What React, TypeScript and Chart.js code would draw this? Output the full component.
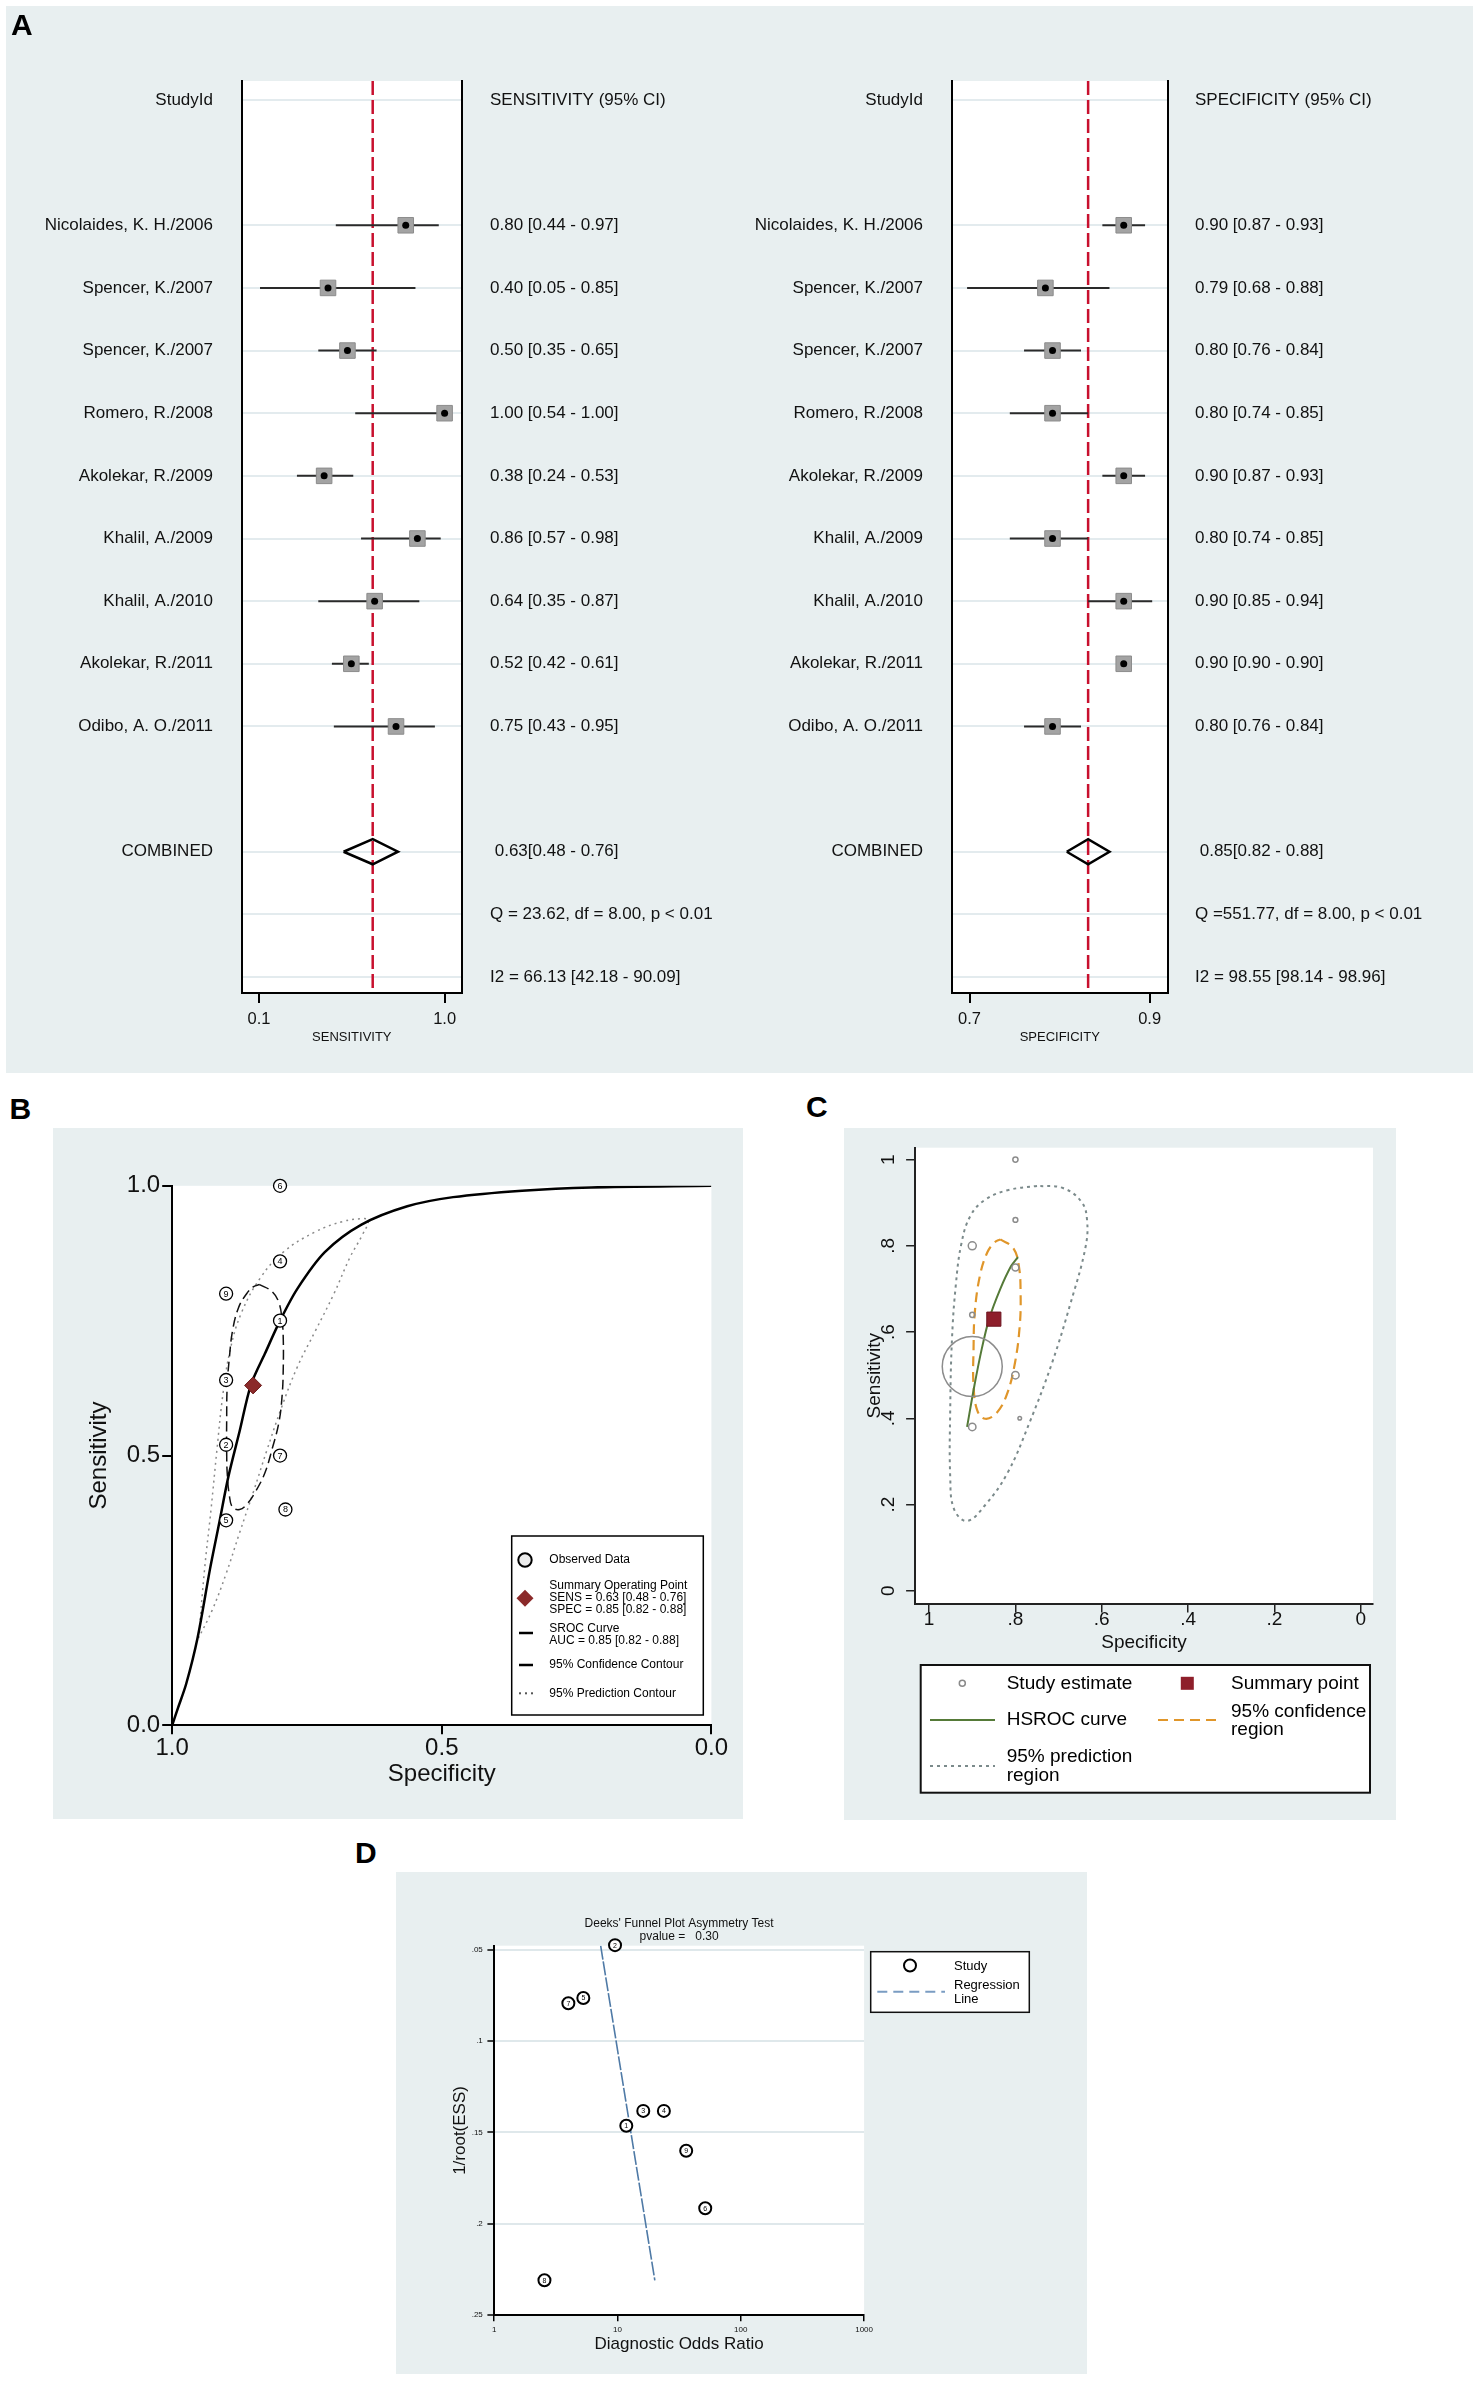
import React, { useEffect, useRef } from "react";
import { Chart, registerables } from "chart.js";

Chart.register(...registerables);

const FONT = "'Liberation Sans', Arial, Helvetica, sans-serif";
const PANEL_BG = "#e8eff0";

// ---------------- data ----------------
const studyNames = [
  "Nicolaides, K. H./2006",
  "Spencer, K./2007",
  "Spencer, K./2007",
  "Romero, R./2008",
  "Akolekar, R./2009",
  "Khalil, A./2009",
  "Khalil, A./2010",
  "Akolekar, R./2011",
  "Odibo, A. O./2011",
];
const studyNumbers = ["9", "8", "7", "6", "5", "4", "3", "2", "1"];
const sensitivity = [0.8, 0.4, 0.5, 1.0, 0.38, 0.86, 0.64, 0.52, 0.75];
const sensitivityLow = [0.44, 0.05, 0.35, 0.54, 0.24, 0.57, 0.35, 0.42, 0.43];
const sensitivityHigh = [0.97, 0.85, 0.65, 1.0, 0.53, 0.98, 0.87, 0.61, 0.95];
const specificity = [0.9, 0.79, 0.8, 0.8, 0.9, 0.8, 0.9, 0.9, 0.8];
const specificityLow = [0.87, 0.68, 0.76, 0.74, 0.87, 0.74, 0.85, 0.9, 0.76];
const specificityHigh = [0.93, 0.88, 0.84, 0.85, 0.93, 0.85, 0.94, 0.9, 0.84];
const pooledSensitivity = [0.63, 0.48, 0.76];
const pooledSpecificity = [0.85, 0.82, 0.88];
const aucSummary = [0.85, 0.82, 0.88];
const sensitivityStats = ["Q = 23.62, df = 8.00, p < 0.01", "I2 = 66.13 [42.18 - 90.09]"];
const specificityStats = ["Q =551.77, df = 8.00, p < 0.01", "I2 = 98.55 [98.14 - 98.96]"];
const sensitivityTickValues = [0.045, 1.0];
const sensitivityTickLabels = ["0.1", "1.0"];
const specificityTickValues = [0.6834, 0.9364];
const specificityTickLabels = ["0.7", "0.9"];

// SROC (panel B)
const srocSpec = [1.0, 0.99, 0.974, 0.953, 0.93, 0.913, 0.896, 0.875, 0.854, 0.828, 0.8, 0.768, 0.717, 0.649, 0.564, 0.479, 0.351, 0.223, 0.0];
const srocSens = [0.0, 0.03, 0.077, 0.162, 0.289, 0.374, 0.46, 0.545, 0.631, 0.689, 0.75, 0.809, 0.877, 0.928, 0.962, 0.979, 0.991, 0.997, 1.0];
const confSpecB = [0.838, 0.815, 0.802, 0.796, 0.794, 0.794, 0.796, 0.802, 0.815, 0.828, 0.845, 0.862, 0.875, 0.888, 0.894, 0.898, 0.899, 0.899, 0.898, 0.894, 0.888, 0.877, 0.862, 0.849, 0.838];
const confSensB = [0.817, 0.804, 0.783, 0.749, 0.715, 0.664, 0.613, 0.562, 0.511, 0.468, 0.434, 0.409, 0.4, 0.404, 0.426, 0.468, 0.511, 0.562, 0.63, 0.681, 0.732, 0.774, 0.8, 0.813, 0.817];
const predSpecB = [0.951, 0.94, 0.928, 0.917, 0.906, 0.892, 0.871, 0.836, 0.794, 0.734, 0.683, 0.649, 0.636, 0.649, 0.67, 0.7, 0.734, 0.768, 0.798, 0.824, 0.849, 0.875, 0.9, 0.926, 0.951];
const predSensB = [0.162, 0.289, 0.4, 0.511, 0.613, 0.698, 0.766, 0.83, 0.877, 0.915, 0.934, 0.939, 0.936, 0.906, 0.868, 0.8, 0.732, 0.664, 0.587, 0.511, 0.434, 0.357, 0.281, 0.213, 0.162];
const srocTickValues = [0, 0.5, 1];
const srocTickLabels = ["0.0", "0.5", "1.0"];

// HSROC (panel C)
const hsrocSpec = [0.912, 0.895, 0.878, 0.861, 0.835, 0.81, 0.794];
const hsrocSens = [0.38, 0.476, 0.561, 0.63, 0.7, 0.753, 0.774];
const confSpecC = [0.835, 0.805, 0.792, 0.788, 0.79, 0.801, 0.82, 0.844, 0.87, 0.888, 0.897, 0.897, 0.894, 0.882, 0.865, 0.848, 0.835];
const confSensC = [0.815, 0.795, 0.753, 0.689, 0.615, 0.529, 0.455, 0.412, 0.399, 0.417, 0.476, 0.561, 0.647, 0.732, 0.785, 0.808, 0.815];
const predSpecC = [0.75, 0.818, 0.87, 0.904, 0.925, 0.938, 0.947, 0.951, 0.951, 0.942, 0.912, 0.87, 0.818, 0.767, 0.715, 0.672, 0.638, 0.634, 0.647, 0.69, 0.75];
const predSensC = [0.939, 0.929, 0.907, 0.87, 0.806, 0.71, 0.583, 0.423, 0.263, 0.189, 0.162, 0.199, 0.274, 0.391, 0.529, 0.668, 0.795, 0.859, 0.902, 0.934, 0.939];
const hsrocTickValues = [0, 0.2, 0.4, 0.6, 0.8, 1];
const hsrocTickLabels = ["0", ".2", ".4", ".6", ".8", "1"];

// Deeks funnel (panel D)
const deeksDOR = [36.1, 2.56, 4.0, 51.5, 5.29, 23.8, 16.2, 9.56, 11.8];
const deeksInvRootESS = [0.16, 0.2309, 0.0793, 0.1915, 0.0764, 0.1382, 0.1382, 0.0475, 0.1463];
const regressionDOR = [7.31, 20.1];
const regressionInvRootESS = [0.0478, 0.2309];
const deeksPValue = 0.3;
const deeksXTickValues = [1, 10, 100, 1000];
const deeksXTickLabels = ["1", "10", "100", "1000"];
const deeksYTickValues = [0.05, 0.1, 0.15, 0.2, 0.25];
const deeksYTickLabels = [".05", ".1", ".15", ".2", ".25"];

// ---------------- styles (not data) ----------------
const studyMarkerRadiusC = [4, 1.8, 3.7, 2.6, 3.7, 2.4, 2.6, 30, 3.5];

const HEADER_ROW = 0;
const FIRST_STUDY_ROW = 2;
const COMBINED_ROW = 12;
const ROW_COUNT = 15;
const ROW_MIN = -0.303;
const ROW_MAX = 14.255;

const fmtCI = (e: number, l: number, h: number) =>
  `${e.toFixed(2)} [${l.toFixed(2)} - ${h.toFixed(2)}]`;

const pts = (xs: number[], ys: number[]) => xs.map((x, i) => ({ x, y: ys[i] }));

// ---------------- plugins ----------------
const plotBackground = {
  id: "plotBackground",
  beforeDraw(chart: any) {
    const { ctx, chartArea: a } = chart;
    ctx.save();
    ctx.fillStyle = "#ffffff";
    ctx.fillRect(a.left, a.top, a.right - a.left, a.bottom - a.top);
    ctx.restore();
  },
};

const numberLabels = {
  id: "numberLabels",
  afterDatasetsDraw(chart: any) {
    const ctx = chart.ctx;
    chart.data.datasets.forEach((ds: any, i: number) => {
      if (!ds.numLabels) return;
      const meta = chart.getDatasetMeta(i);
      ctx.save();
      ctx.font = ds.numFont;
      ctx.fillStyle = "#000";
      ctx.textAlign = "center";
      ctx.textBaseline = "middle";
      meta.data.forEach((el: any, j: number) => {
        ctx.fillText(ds.numLabels[j], el.x, el.y + 0.5);
      });
      ctx.restore();
    });
  },
};

const drawing = (id: string, fn: (ctx: CanvasRenderingContext2D, chart: any) => void) => ({
  id,
  afterDraw(chart: any) {
    const ctx = chart.ctx;
    ctx.save();
    fn(ctx, chart);
    ctx.restore();
  },
});

const commonOptions = {
  responsive: false,
  animation: false,
  devicePixelRatio: 1,
  events: [],
};
const noPlugins = {
  legend: { display: false },
  tooltip: { enabled: false },
  title: { display: false },
};

// ---------------- panel A: forest plots ----------------
function buildForest(cfg: any) {
  const { est, lo, hi, pooled, header, stats, title, xMin, xMax, tickValues, tickLabels, yWidth, y2Width, leftPadding, rightPadding } = cfg;
  const leftLabels: string[] = new Array(ROW_COUNT).fill("");
  const rightLabels: string[] = new Array(ROW_COUNT).fill("");
  leftLabels[HEADER_ROW] = "StudyId";
  rightLabels[HEADER_ROW] = header;
  studyNames.forEach((name, i) => {
    leftLabels[FIRST_STUDY_ROW + i] = name;
    rightLabels[FIRST_STUDY_ROW + i] = fmtCI(est[i], lo[i], hi[i]);
  });
  leftLabels[COMBINED_ROW] = "COMBINED";
  rightLabels[COMBINED_ROW] = " " + pooled[0].toFixed(2) + "[" + pooled[1].toFixed(2) + " - " + pooled[2].toFixed(2) + "]";
  stats.forEach((s: string, i: number) => {
    rightLabels[COMBINED_ROW + 1 + i] = s;
  });
  const tickRows = leftLabels.map((_, r) => r).filter((r) => leftLabels[r] !== "" || rightLabels[r] !== "");
  const setRows = (s: any) => {
    s.ticks = tickRows.map((v) => ({ value: v }));
  };
  const rowOf = (i: number) => FIRST_STUDY_ROW + i;
  const labelFont = { family: FONT, size: 17 };

  const datasets: any[] = [
    {
      label: "dots",
      data: est.map((v: number, i: number) => ({ x: v, y: rowOf(i) })),
      pointStyle: "circle",
      pointRadius: 3.5,
      pointBackgroundColor: "#000",
      pointBorderColor: "#000",
      pointBorderWidth: 0,
      order: 1,
    },
    {
      label: "squares",
      data: est.map((v: number, i: number) => ({ x: v, y: rowOf(i) })),
      pointStyle: "rect",
      pointRadius: 11,
      pointBackgroundColor: "#a3a3a3",
      pointBorderColor: "#8c8c8c",
      pointBorderWidth: 1,
      order: 2,
    },
    ...est.map((_: number, i: number) => ({
      label: "ci" + i,
      data: [
        { x: lo[i], y: rowOf(i) },
        { x: hi[i], y: rowOf(i) },
      ],
      showLine: true,
      borderColor: "#2a2a2a",
      borderWidth: 2,
      pointRadius: 0,
      order: 3,
    })),
    {
      label: "pooled",
      data: [
        { x: pooled[1], y: COMBINED_ROW },
        { x: pooled[0], y: COMBINED_ROW - 0.2 },
        { x: pooled[2], y: COMBINED_ROW },
        { x: pooled[0], y: COMBINED_ROW + 0.2 },
        { x: pooled[1], y: COMBINED_ROW },
      ],
      showLine: true,
      borderColor: "#000",
      borderWidth: 2.5,
      borderJoinStyle: "miter",
      pointRadius: 0,
      order: 4,
    },
    {
      label: "reference",
      data: [
        { x: pooled[0], y: ROW_MIN },
        { x: pooled[0], y: ROW_MAX },
      ],
      showLine: true,
      borderColor: "#c8102e",
      borderWidth: 2.5,
      borderDash: [14, 5],
      pointRadius: 0,
      order: 5,
    },
  ];

  return {
    type: "scatter",
    data: { datasets },
    options: {
      ...commonOptions,
      layout: { autoPadding: false, padding: { top: 75, bottom: 20, left: 0, right: 0 } },
      plugins: noPlugins,
      scales: {
        x: {
          type: "linear",
          min: xMin,
          max: xMax,
          afterBuildTicks: (s: any) => {
            s.ticks = tickValues.map((v: number) => ({ value: v }));
          },
          afterFit: (s: any) => {
            s.height = 60;
          },
          ticks: {
            autoSkip: false,
            maxRotation: 0,
            padding: 7,
            color: "#111",
            font: { family: FONT, size: 16.5 },
            callback: (_v: any, i: number) => tickLabels[i],
          },
          grid: { drawOnChartArea: false, drawTicks: true, tickLength: 10, color: "#000", lineWidth: 2 },
          border: { display: true, color: "#000", width: 2 },
          title: {
            display: true,
            text: title,
            color: "#111",
            font: { family: FONT, size: 13 },
            padding: { top: 0, bottom: 7.5 },
          },
        },
        y: {
          type: "linear",
          reverse: true,
          min: ROW_MIN,
          max: ROW_MAX,
          afterBuildTicks: setRows,
          afterFit: (s: any) => {
            s.width = yWidth;
            s.paddingTop = 0;
            s.paddingBottom = 0;
          },
          ticks: {
            autoSkip: false,
            padding: leftPadding,
            color: "#111",
            font: labelFont,
            callback: (v: any) => leftLabels[v] ?? "",
          },
          grid: { color: "#e3ebee", lineWidth: 2, drawTicks: false },
          border: { display: true, color: "#000", width: 2 },
        },
        y2: {
          type: "linear",
          position: "right",
          reverse: true,
          min: ROW_MIN,
          max: ROW_MAX,
          afterBuildTicks: setRows,
          afterFit: (s: any) => {
            s.width = y2Width;
            s.paddingTop = 0;
            s.paddingBottom = 0;
          },
          ticks: {
            autoSkip: false,
            padding: rightPadding,
            color: "#111",
            font: labelFont,
            callback: (v: any) => rightLabels[v] ?? "",
          },
          grid: { display: false, drawTicks: false },
          border: { display: true, color: "#000", width: 2 },
        },
      },
    },
    plugins: [plotBackground],
  };
}

const buildSensForest = () =>
  buildForest({
    est: sensitivity,
    lo: sensitivityLow,
    hi: sensitivityHigh,
    pooled: pooledSensitivity,
    header: "SENSITIVITY (95% CI)",
    stats: sensitivityStats,
    title: "SENSITIVITY",
    xMin: -0.0427,
    xMax: 1.0875,
    tickValues: sensitivityTickValues,
    tickLabels: sensitivityTickLabels,
    yWidth: 236,
    y2Width: 278.4,
    leftPadding: 29,
    rightPadding: 28.4,
  });

const buildSpecForest = () =>
  buildForest({
    est: specificity,
    lo: specificityLow,
    hi: specificityHigh,
    pooled: pooledSpecificity,
    header: "SPECIFICITY (95% CI)",
    stats: specificityStats,
    title: "SPECIFICITY",
    xMin: 0.6588,
    xMax: 0.9615,
    tickValues: specificityTickValues,
    tickLabels: specificityTickLabels,
    yWidth: 212,
    y2Width: 305.5,
    leftPadding: 29,
    rightPadding: 27.5,
  });

// ---------------- panel B: SROC ----------------
const legendB = drawing("legendB", (ctx) => {
  ctx.fillStyle = "#fff";
  ctx.fillRect(458.7, 408, 191.6, 179);
  ctx.strokeStyle = "#000";
  ctx.lineWidth = 1.5;
  ctx.strokeRect(458.7, 408, 191.6, 179);

  ctx.beginPath();
  ctx.arc(472, 432, 6.7, 0, Math.PI * 2);
  ctx.fillStyle = "#ececec";
  ctx.fill();
  ctx.lineWidth = 2;
  ctx.strokeStyle = "#000";
  ctx.stroke();

  ctx.beginPath();
  ctx.moveTo(472, 470.3 - 8.5);
  ctx.lineTo(472 + 8.5, 470.3);
  ctx.lineTo(472, 470.3 + 8.5);
  ctx.lineTo(472 - 8.5, 470.3);
  ctx.closePath();
  ctx.fillStyle = "#8b2a2a";
  ctx.fill();

  ctx.lineWidth = 2.5;
  ctx.strokeStyle = "#000";
  ctx.beginPath();
  ctx.moveTo(466, 505);
  ctx.lineTo(480, 505);
  ctx.stroke();
  ctx.beginPath();
  ctx.moveTo(466, 537);
  ctx.lineTo(480, 537);
  ctx.stroke();
  ctx.fillStyle = "#555";
  [467, 473, 479].forEach((x) => ctx.fillRect(x - 1, 564.3, 2, 2));

  ctx.fillStyle = "#000";
  ctx.font = `12px ${FONT}`;
  ctx.textAlign = "left";
  ctx.textBaseline = "middle";
  const tx = 496.3;
  ctx.fillText("Observed Data", tx, 432);
  ctx.fillText("Summary Operating Point", tx, 457.5);
  ctx.fillText("SENS = " + fmtCI(pooledSensitivity[0], pooledSensitivity[1], pooledSensitivity[2]), tx, 469.8);
  ctx.fillText("SPEC = " + fmtCI(pooledSpecificity[0], pooledSpecificity[1], pooledSpecificity[2]), tx, 482);
  ctx.fillText("SROC Curve", tx, 500.5);
  ctx.fillText("AUC = " + fmtCI(aucSummary[0], aucSummary[1], aucSummary[2]), tx, 513);
  ctx.fillText("95% Confidence Contour", tx, 537);
  ctx.fillText("95% Prediction Contour", tx, 565.3);
});

const buildSroc = () => ({
  type: "scatter",
  data: {
    datasets: [
      {
        label: "summary",
        data: [{ x: pooledSpecificity[0], y: pooledSensitivity[0] }],
        pointStyle: "rectRot",
        pointRadius: 8.5,
        pointBackgroundColor: "#8b2a2a",
        pointBorderColor: "#6e1f1f",
        pointBorderWidth: 1,
        order: 0,
        clip: false,
      },
      {
        label: "observed",
        data: pts(specificity, sensitivity),
        pointStyle: "circle",
        pointRadius: 6.5,
        pointBackgroundColor: "#ffffff",
        pointBorderColor: "#000",
        pointBorderWidth: 1.3,
        order: 1,
        clip: false,
        numLabels: studyNumbers,
        numFont: `9px ${FONT}`,
      },
      {
        label: "sroc",
        data: pts(srocSpec, srocSens),
        showLine: true,
        borderColor: "#000",
        borderWidth: 2.5,
        pointRadius: 0,
        tension: 0.3,
        order: 2,
      },
      {
        label: "conf",
        data: pts(confSpecB, confSensB),
        showLine: true,
        borderColor: "#111",
        borderWidth: 1.5,
        borderDash: [10, 5],
        pointRadius: 0,
        tension: 0.4,
        order: 3,
      },
      {
        label: "pred",
        data: pts(predSpecB, predSensB),
        showLine: true,
        borderColor: "#8a8a8a",
        borderWidth: 1.5,
        borderDash: [2, 4],
        pointRadius: 0,
        tension: 0.4,
        order: 4,
      },
    ],
  },
  options: {
    ...commonOptions,
    layout: { autoPadding: false, padding: { top: 57.8, right: 31.6, left: 0, bottom: 13.7 } },
    plugins: noPlugins,
    scales: {
      x: {
        type: "linear",
        reverse: true,
        min: 0,
        max: 1,
        afterBuildTicks: (s: any) => {
          s.ticks = srocTickValues.map((v) => ({ value: v }));
        },
        afterFit: (s: any) => {
          s.height = 80;
        },
        ticks: {
          autoSkip: false,
          maxRotation: 0,
          padding: 0,
          color: "#111",
          font: { family: FONT, size: 24 },
          callback: (_v: any, i: number) => srocTickLabels[i],
        },
        grid: { drawOnChartArea: false, tickLength: 9, color: "#000", lineWidth: 2 },
        border: { display: true, color: "#000", width: 2 },
        title: {
          display: true,
          text: "Specificity",
          color: "#111",
          font: { family: FONT, size: 24 },
          padding: { top: 0, bottom: 16.4 },
        },
      },
      y: {
        type: "linear",
        min: 0,
        max: 1,
        afterBuildTicks: (s: any) => {
          s.ticks = srocTickValues.map((v) => ({ value: v }));
        },
        afterFit: (s: any) => {
          s.width = 119.2;
        },
        ticks: {
          autoSkip: false,
          padding: 2,
          color: "#111",
          font: { family: FONT, size: 24 },
          callback: (_v: any, i: number) => srocTickLabels[i],
        },
        grid: { drawOnChartArea: false, tickLength: 10, color: "#000", lineWidth: 2 },
        border: { display: true, color: "#000", width: 2 },
        title: {
          display: true,
          text: "Sensitivity",
          color: "#111",
          font: { family: FONT, size: 24 },
          padding: { top: 32.3, bottom: 0 },
        },
      },
    },
  },
  plugins: [plotBackground, numberLabels, legendB],
});

// ---------------- panel C: HSROC ----------------
const legendC = drawing("legendC", (ctx) => {
  ctx.fillStyle = "#fff";
  ctx.fillRect(76.7, 537, 449.3, 127.7);
  ctx.strokeStyle = "#111";
  ctx.lineWidth = 2;
  ctx.strokeRect(76.7, 537, 449.3, 127.7);

  ctx.beginPath();
  ctx.arc(118.3, 555.3, 3, 0, Math.PI * 2);
  ctx.strokeStyle = "#8a8a8a";
  ctx.lineWidth = 1.5;
  ctx.stroke();

  ctx.fillStyle = "#8e1f2b";
  ctx.fillRect(336.8, 548.8, 13, 13);

  ctx.lineWidth = 2;
  ctx.strokeStyle = "#557a38";
  ctx.beginPath();
  ctx.moveTo(86, 592);
  ctx.lineTo(151, 592);
  ctx.stroke();

  ctx.strokeStyle = "#e0962a";
  ctx.setLineDash([10, 6]);
  ctx.beginPath();
  ctx.moveTo(314, 592);
  ctx.lineTo(372, 592);
  ctx.stroke();

  ctx.strokeStyle = "#7b8a8b";
  ctx.setLineDash([3, 4]);
  ctx.beginPath();
  ctx.moveTo(86, 638);
  ctx.lineTo(151, 638);
  ctx.stroke();
  ctx.setLineDash([]);

  ctx.fillStyle = "#000";
  ctx.font = `19px ${FONT}`;
  ctx.textAlign = "left";
  ctx.textBaseline = "middle";
  ctx.fillText("Study estimate", 162.7, 555.3);
  ctx.fillText("Summary point", 387, 555.3);
  ctx.fillText("HSROC curve", 162.7, 592);
  ctx.fillText("95% confidence", 387, 583.7);
  ctx.fillText("region", 387, 602);
  ctx.fillText("95% prediction", 162.7, 628.7);
  ctx.fillText("region", 162.7, 648);
});

const buildHsroc = () => ({
  type: "scatter",
  data: {
    datasets: [
      {
        label: "summary",
        data: [{ x: pooledSpecificity[0], y: pooledSensitivity[0] }],
        pointStyle: "rect",
        pointRadius: 10,
        pointBackgroundColor: "#8e1f2b",
        pointBorderColor: "#6d1520",
        pointBorderWidth: 1,
        order: 0,
      },
      {
        label: "studies",
        data: pts(specificity, sensitivity),
        pointStyle: "circle",
        pointRadius: studyMarkerRadiusC,
        pointBackgroundColor: "rgba(0,0,0,0)",
        pointBorderColor: "#8c8c8c",
        pointBorderWidth: 1.5,
        order: 1,
        clip: false,
      },
      {
        label: "hsroc",
        data: pts(hsrocSpec, hsrocSens),
        showLine: true,
        borderColor: "#557a38",
        borderWidth: 2,
        pointRadius: 0,
        tension: 0.3,
        order: 2,
      },
      {
        label: "conf",
        data: pts(confSpecC, confSensC),
        showLine: true,
        borderColor: "#e0962a",
        borderWidth: 2.2,
        borderDash: [10, 6],
        pointRadius: 0,
        tension: 0.4,
        order: 3,
      },
      {
        label: "pred",
        data: pts(predSpecC, predSensC),
        showLine: true,
        borderColor: "#7b8a8b",
        borderWidth: 2,
        borderDash: [3, 4],
        pointRadius: 0,
        tension: 0.4,
        order: 4,
      },
    ],
  },
  options: {
    ...commonOptions,
    layout: { autoPadding: false, padding: { top: 19.7, right: 23, left: 0, bottom: 136.4 } },
    plugins: noPlugins,
    scales: {
      x: {
        type: "linear",
        reverse: true,
        min: -0.0283,
        max: 1.0324,
        afterBuildTicks: (s: any) => {
          s.ticks = hsrocTickValues.map((v) => ({ value: v }));
        },
        afterFit: (s: any) => {
          s.height = 80;
          s.paddingLeft = 0;
          s.paddingRight = 0;
        },
        ticks: {
          autoSkip: false,
          maxRotation: 0,
          padding: -2.4,
          color: "#111",
          font: { family: FONT, size: 19, lineHeight: 1 },
          callback: (_v: any, i: number) => hsrocTickLabels[i],
        },
        grid: { drawOnChartArea: false, tickLength: 9, color: "#222", lineWidth: 1.5 },
        border: { display: true, color: "#222", width: 2 },
        title: {
          display: true,
          text: "Specificity",
          color: "#111",
          font: { family: FONT, size: 19 },
          padding: { top: 0, bottom: 29.5 },
        },
      },
      y: {
        type: "linear",
        min: -0.0297,
        max: 1.0276,
        afterBuildTicks: (s: any) => {
          s.ticks = hsrocTickValues.map((v) => ({ value: v }));
        },
        afterFit: (s: any) => {
          s.width = 71.1;
          s.paddingTop = 0;
          s.paddingBottom = 0;
        },
        ticks: {
          autoSkip: false,
          minRotation: 90,
          maxRotation: 90,
          crossAlign: "center",
          padding: 9,
          color: "#111",
          font: { family: FONT, size: 19 },
          callback: (_v: any, i: number) => hsrocTickLabels[i],
        },
        grid: { drawOnChartArea: false, tickLength: 9, color: "#222", lineWidth: 1.5 },
        border: { display: true, color: "#222", width: 2 },
        title: {
          display: true,
          text: "Sensitivity",
          color: "#111",
          font: { family: FONT, size: 19 },
          padding: { top: 19, bottom: 0 },
        },
      },
    },
  },
  plugins: [plotBackground, legendC],
});

// ---------------- panel D: Deeks funnel ----------------
const legendD = drawing("legendD", (ctx) => {
  ctx.fillStyle = "#fff";
  ctx.fillRect(474.7, 79.7, 158.6, 60.6);
  ctx.strokeStyle = "#111";
  ctx.lineWidth = 1.5;
  ctx.strokeRect(474.7, 79.7, 158.6, 60.6);

  ctx.beginPath();
  ctx.arc(514, 93.5, 6, 0, Math.PI * 2);
  ctx.strokeStyle = "#000";
  ctx.lineWidth = 2;
  ctx.stroke();

  ctx.strokeStyle = "#7a9cc2";
  ctx.lineWidth = 2;
  ctx.setLineDash([10, 6]);
  ctx.beginPath();
  ctx.moveTo(481.3, 119.7);
  ctx.lineTo(549, 119.7);
  ctx.stroke();
  ctx.setLineDash([]);

  ctx.fillStyle = "#000";
  ctx.font = `13px ${FONT}`;
  ctx.textAlign = "left";
  ctx.textBaseline = "middle";
  ctx.fillText("Study", 558, 94.7);
  ctx.fillText("Regression", 558, 113.7);
  ctx.fillText("Line", 558, 127);
});

const buildDeeks = () => ({
  type: "scatter",
  data: {
    datasets: [
      {
        label: "studies",
        data: pts(deeksDOR, deeksInvRootESS),
        pointStyle: "circle",
        pointRadius: 6,
        pointBackgroundColor: "#ffffff",
        pointBorderColor: "#000",
        pointBorderWidth: 2,
        order: 0,
        clip: false,
        numLabels: studyNumbers,
        numFont: `7px ${FONT}`,
      },
      {
        label: "regression",
        data: pts(regressionDOR, regressionInvRootESS),
        showLine: true,
        borderColor: "#4f7aa6",
        borderWidth: 1.6,
        borderDash: [14, 2],
        pointRadius: 0,
        order: 1,
      },
    ],
  },
  options: {
    ...commonOptions,
    layout: { autoPadding: false, padding: { top: 45.5, right: 222.9, left: 0, bottom: 3.8 } },
    plugins: {
      legend: { display: false },
      tooltip: { enabled: false },
      title: {
        display: true,
        fullSize: false,
        text: ["Deeks' Funnel Plot Asymmetry Test", "pvalue =   " + deeksPValue.toFixed(2)],
        color: "#111",
        font: { family: FONT, size: 12, weight: "normal", lineHeight: 1.05 },
        padding: { top: 0, bottom: 3 },
      },
    },
    scales: {
      x: {
        type: "logarithmic",
        min: 1,
        max: 1000,
        afterBuildTicks: (s: any) => {
          s.ticks = deeksXTickValues.map((v) => ({ value: v }));
        },
        afterFit: (s: any) => {
          s.height = 55;
        },
        ticks: {
          autoSkip: false,
          maxRotation: 0,
          padding: 4.2,
          color: "#111",
          font: { family: FONT, size: 8 },
          callback: (_v: any, i: number) => deeksXTickLabels[i],
        },
        grid: { drawOnChartArea: false, tickLength: 6, color: "#000", lineWidth: 1.5 },
        border: { display: true, color: "#000", width: 2 },
        title: {
          display: true,
          text: "Diagnostic Odds Ratio",
          color: "#111",
          font: { family: FONT, size: 17 },
          padding: { top: 0, bottom: 15.8 },
        },
      },
      y: {
        type: "linear",
        reverse: true,
        min: 0.0478,
        max: 0.25,
        afterBuildTicks: (s: any) => {
          s.ticks = deeksYTickValues.map((v) => ({ value: v }));
        },
        afterFit: (s: any) => {
          s.width = 98.1;
        },
        ticks: {
          autoSkip: false,
          padding: 4.6,
          color: "#111",
          font: { family: FONT, size: 8 },
          callback: (_v: any, i: number) => deeksYTickLabels[i],
        },
        grid: { color: "#dfe8eb", lineWidth: 2, tickLength: 6.7, tickColor: "#000", tickWidth: 1.5 },
        border: { display: true, color: "#000", width: 2 },
        title: {
          display: true,
          text: "1/root(ESS)",
          color: "#111",
          font: { family: FONT, size: 17 },
          padding: { top: 54, bottom: 0 },
        },
      },
    },
  },
  plugins: [plotBackground, numberLabels, legendD],
});

// ---------------- components ----------------
function ChartCanvas({ left, top, width, height, build }: any) {
  const ref = useRef<HTMLCanvasElement | null>(null);
  useEffect(() => {
    if (!ref.current) return;
    const chart = new Chart(ref.current, build() as any);
    return () => chart.destroy();
  }, []);
  return (
    <div style={{ position: "absolute", left, top, width, height, background: PANEL_BG }}>
      <canvas ref={ref} width={width} height={height} style={{ display: "block", width, height }} />
    </div>
  );
}

function PanelLetter({ text, left, top }: any) {
  return (
    <div style={{ position: "absolute", left, top, font: `bold 30px/30px ${FONT}`, color: "#000" }}>{text}</div>
  );
}

export default function App() {
  return (
    <div style={{ position: "absolute", left: 0, top: 0, width: 1479, height: 2381, background: "#fff" }}>
      <ChartCanvas left={6} top={6} width={734} height={1067} build={buildSensForest} />
      <ChartCanvas left={740} top={6} width={733} height={1067} build={buildSpecForest} />
      <ChartCanvas left={53} top={1128} width={690} height={691} build={buildSroc} />
      <ChartCanvas left={844} top={1128} width={552} height={692} build={buildHsroc} />
      <ChartCanvas left={396} top={1872} width={691} height={502} build={buildDeeks} />
      <PanelLetter text="A" left={11} top={9.8} />
      <PanelLetter text="B" left={9.5} top={1094} />
      <PanelLetter text="C" left={806} top={1092} />
      <PanelLetter text="D" left={355} top={1838} />
    </div>
  );
}
